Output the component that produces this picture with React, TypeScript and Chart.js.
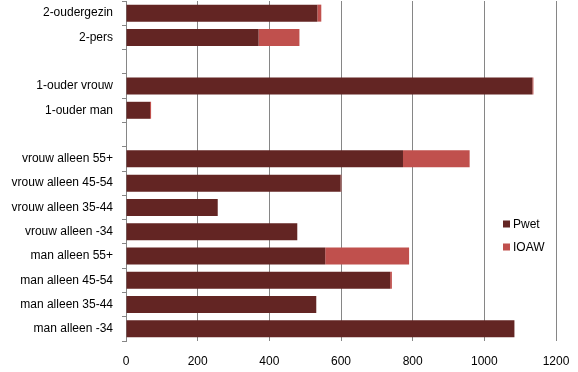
import React, { useEffect, useRef } from "react";
import { Chart, registerables } from "chart.js";
Chart.register(...registerables);

const categories = [
  "2-oudergezin",
  "2-pers",
  "",
  "1-ouder vrouw",
  "1-ouder man",
  "",
  "vrouw alleen 55+",
  "vrouw alleen 45-54",
  "vrouw alleen 35-44",
  "vrouw alleen -34",
  "man alleen 55+",
  "man alleen 45-54",
  "man alleen 35-44",
  "man alleen -34",
];
const pwet = [534, 370, null, 1134, 67, null, 773, 599, 256, 478, 556, 737, 531, 1084];
const ioaw = [11, 114, null, 3, 3, null, 186, 2, 0, 0, 234, 5, 0, 0];
const seriesNames = ["Pwet", "IOAW"];
const seriesColors = ["#632523", "#C0504D"];
const xMin = 0;
const xMax = 1200;
const xStep = 200;

const FONT = "'Liberation Sans', Arial, sans-serif";
const FSIZE = 12;

const legendPlugin = {
  id: "insideLegend",
  afterDraw(chart: any) {
    const ctx = chart.ctx;
    ctx.save();
    ctx.font = `${FSIZE}px ${FONT}`;
    ctx.textBaseline = "middle";
    ctx.textAlign = "left";
    const x = 503;
    const ys = [224, 247];
    chart.data.datasets.forEach((ds: any, i: number) => {
      ctx.fillStyle = ds.backgroundColor;
      ctx.fillRect(x, ys[i] - 3.5, 7, 7);
      ctx.fillStyle = "#000";
      ctx.fillText(ds.label, x + 10, ys[i] + 0.5);
    });
    ctx.restore();
  },
};

export default function App() {
  const ref = useRef<HTMLCanvasElement>(null);
  useEffect(() => {
    if (!ref.current) return;
    const chart = new Chart(ref.current, {
      type: "bar",
      data: {
        labels: categories,
        datasets: [
          { label: seriesNames[0], data: pwet as any, backgroundColor: seriesColors[0], barPercentage: 0.7, categoryPercentage: 1 },
          { label: seriesNames[1], data: ioaw as any, backgroundColor: seriesColors[1], barPercentage: 0.7, categoryPercentage: 1 },
        ],
      },
      options: {
        indexAxis: "y",
        animation: false,
        responsive: true,
        maintainAspectRatio: false,
        layout: { padding: { top: 1, right: 22, left: 0, bottom: 0 } },
        plugins: { legend: { display: false }, tooltip: { enabled: false } },
        scales: {
          x: {
            stacked: true,
            min: xMin,
            max: xMax,
            ticks: {
              stepSize: xStep,
              color: "#000",
              padding: 13,
              font: { family: FONT, size: FSIZE },
              callback: (v: any) => String(v),
            },
            grid: { color: "#868686", lineWidth: 1, drawTicks: false },
            border: { display: false },
            afterFit: (s: any) => {
              s.height = 31;
              s.paddingLeft = 0;
              s.paddingRight = 0;
            },
          },
          y: {
            stacked: true,
            ticks: { color: "#000", padding: 9, font: { family: FONT, size: FSIZE }, autoSkip: false },
            grid: { drawOnChartArea: false, tickLength: 4, color: "#868686" },
            border: { display: true, color: "#868686" },
            afterFit: (s: any) => {
              s.width = 126;
              s.paddingTop = 0;
              s.paddingBottom = 0;
            },
          },
        },
      },
      plugins: [legendPlugin],
    });
    return () => chart.destroy();
  }, []);
  return (
    <div style={{ position: "fixed", left: 0, top: 0, width: 578, height: 372, background: "#fff" }}>
      <canvas ref={ref} />
    </div>
  );
}
